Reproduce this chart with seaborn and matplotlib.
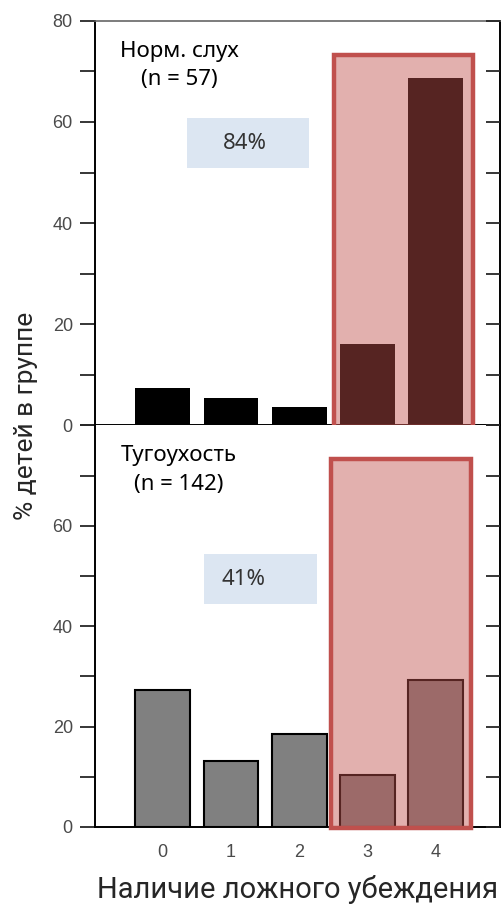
import matplotlib
matplotlib.use("Agg")
import matplotlib.pyplot as plt
import matplotlib.patches as mpatches
import seaborn as sns
import numpy as np
import pandas as pd

# данные
categories = ["0", "1", "2", "3", "4"]
normal_vals = [7.3, 5.5, 3.6, 16.0, 68.6]
hl_vals = [27.3, 13.1, 18.6, 10.3, 29.3]
panel_titles = ["Норм. слух\n(n = 57)", "Тугоухость\n(n = 142)"]
pct_labels = ["84%", "41%"]
y_ticks = list(range(0, 81, 10))

sns.set_style("ticks")
plt.rcParams['font.family'] = ['Noto Sans', 'DejaVu Sans']

RED = "#c0504d"
BLUE_BOX = "#dce6f2"
TICK_COL = "#4a4a4a"

fig = plt.figure(figsize=(5.03, 9.05), dpi=100)
ax_top = fig.add_axes([0.189, 0.530, 0.805, 0.447])
ax_bot = fig.add_axes([0.189, 0.0862, 0.805, 0.4438])

panels = [
    (ax_top, normal_vals, "black", "none", 0),
    (ax_bot, hl_vals, "#808080", "black", 1),
]

for ax, vals, col, ecol, i in panels:
    df = pd.DataFrame({"cat": categories, "val": vals})
    sns.barplot(data=df, x="cat", y="val", ax=ax, color=col, saturation=1,
                width=0.8, edgecolor=ecol, linewidth=1.5 if i else 0, zorder=2)
    ax.set_xlim(-0.99, 4.94)
    ax.set_ylim(0, 80)
    ax.set_xlabel("")
    ax.set_ylabel("")

    # красная рамка над столбцами 3 и 4
    if i == 0:
        rx0, rx1 = 2.51, 4.55
    else:
        rx0, rx1 = 2.46, 4.52
    ax.add_patch(mpatches.Rectangle((rx0, -0.3), rx1 - rx0, 73.6,
                                    facecolor=(0.753, 0.314, 0.302, 0.45),
                                    edgecolor=RED, linewidth=3.2, zorder=3,
                                    clip_on=False))

    # голубая плашка с процентом
    if i == 0:
        bx0, bx1, by0, by1, tx, ty = 0.36, 2.14, 50.9, 60.8, 1.2, 55.7
    else:
        bx0, bx1, by0, by1, tx, ty = 0.61, 2.26, 44.4, 54.3, 1.19, 49.3
    ax.add_patch(mpatches.Rectangle((bx0, by0), bx1 - bx0, by1 - by0,
                                    facecolor=BLUE_BOX, edgecolor="none", zorder=1))
    ax.text(tx, ty, pct_labels[i], ha="center", va="center", fontsize=16,
            color="#333333", zorder=4)

    ax.text(0.24, 71.1, panel_titles[i], ha="center", va="center",
            fontsize=16, color="black", linespacing=1.45, zorder=4)

    # оси
    ax.set_yticks(y_ticks)
    labels = [str(t) if t % 20 == 0 else "" for t in y_ticks]
    if i == 1:
        labels[-1] = ""
    ax.set_yticklabels(labels, fontfamily="Liberation Sans", fontsize=13,
                       color=TICK_COL)
    ax.tick_params(axis="y", direction="out", length=11, width=1.3, pad=5)
    ax.tick_params(axis="x", length=0)
    for s in ["left", "right", "bottom"]:
        ax.spines[s].set_color("black")
        ax.spines[s].set_linewidth(1.4)
    ax.spines["top"].set_visible(i == 0)
    ax.spines["top"].set_color("#666666")
    ax.spines["top"].set_linewidth(1.2)
    ax.spines["right"].set_visible(True)

    axr = ax.twinx()
    axr.set_ylim(0, 80)
    axr.set_yticks(y_ticks)
    axr.tick_params(axis="y", direction="in", length=10, width=1.3,
                    labelright=False)
    for s in axr.spines.values():
        s.set_visible(False)

ax_top.set_xticklabels([])
ax_bot.set_xticks(range(len(categories)))
ax_bot.set_xticklabels(categories, fontfamily="Liberation Sans", fontsize=13,
                       color=TICK_COL)
ax_bot.tick_params(axis="x", length=0, pad=12)
ax_bot.set_xlabel("Наличие ложного убеждения", fontsize=21,
                  fontfamily="Roboto", labelpad=10)

fig.text(0.052, 0.540, "% детей в группе", rotation=90, ha="center",
         va="center", fontsize=19, fontfamily="Roboto")

fig.savefig("out.png", dpi=100)
